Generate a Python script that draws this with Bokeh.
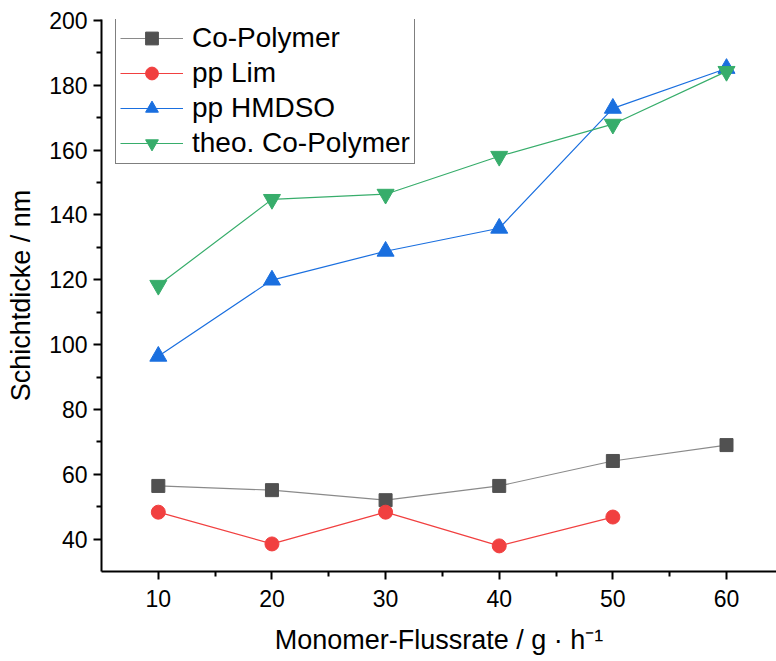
from bokeh.plotting import figure
from bokeh.embed import file_html
from bokeh.resources import INLINE
from bokeh.models import Range1d, FixedTicker, Legend, LegendItem

x_co = [10, 20, 30, 40, 50, 60]
y_co = [56.4, 55.1, 52.0, 56.4, 64.1, 69.0]
x_lim = [10, 20, 30, 40, 50]
y_lim = [48.3, 38.5, 48.3, 37.9, 46.8]
x_hm = [10, 20, 30, 40, 50, 60]
y_hm = [96.4, 119.9, 128.8, 135.9, 172.9, 185.2]
x_th = [10, 20, 30, 40, 50, 60]
y_th = [118.3, 144.8, 146.4, 158.1, 168.0, 184.3]

x_ticks = [10, 20, 30, 40, 50, 60]
y_ticks = [40, 60, 80, 100, 120, 140, 160, 180, 200]

FONT = "Liberation Sans"

p = figure(width=776, height=661, output_backend="svg", toolbar_location=None,
           x_range=Range1d(5, 64.4), y_range=Range1d(30, 200.3),
           min_border_left=101, min_border_right=0, min_border_top=19, min_border_bottom=90)
p.outline_line_color = None
p.grid.visible = False
p.background_fill_color = "white"

series = [
    (x_co, y_co, "#515151", "#8a8a8a", "square", 13, "Co-Polymer"),
    (x_lim, y_lim, "#F14040", "#F14040", "circle", 14, "pp Lim"),
    (x_hm, y_hm, "#1A6FDF", "#1A6FDF", "triangle", 17, "pp HMDSO"),
    (x_th, y_th, "#37AD6B", "#37AD6B", "inverted_triangle", 17, "theo. Co-Polymer"),
]
items = []
for xs, ys, mc, lc, mk, sz, name in series:
    l = p.line(xs, ys, line_color=lc, line_width=1.2)
    s = p.scatter(xs, ys, marker=mk, size=sz, fill_color=mc, line_color=mc)
    items.append(LegendItem(label=name, renderers=[l, s]))

leg = Legend(items=items, location=(14, 407))
leg.label_text_font = FONT
leg.label_text_font_size = "28px"
leg.label_text_color = "black"
leg.glyph_width = 63
leg.glyph_height = 32
leg.label_height = 32
leg.label_standoff = 9
leg.spacing = 3
leg.padding = 4
leg.margin = 0
leg.border_line_color = "black"
leg.border_line_width = 1
leg.background_fill_color = "white"
leg.background_fill_alpha = 1
p.add_layout(leg, "center")

p.xaxis.ticker = FixedTicker(ticks=x_ticks, minor_ticks=[15, 25, 35, 45, 55])
p.yaxis.ticker = FixedTicker(ticks=y_ticks, minor_ticks=[50, 70, 90, 110, 130, 150, 170, 190])
for ax in (p.xaxis, p.yaxis):
    ax.axis_line_width = 2
    ax.axis_line_color = "black"
    ax.major_tick_line_width = 2
    ax.minor_tick_line_width = 2
    ax.major_tick_in = 0
    ax.major_tick_out = 8
    ax.minor_tick_in = 0
    ax.minor_tick_out = 5
    ax.major_label_text_font = FONT
    ax.major_label_text_font_size = "23px"
    ax.major_label_text_color = "black"
    ax.axis_label_text_font = FONT
    ax.axis_label_text_font_size = "27px"
    ax.axis_label_text_font_style = "normal"
    ax.axis_label_text_color = "black"
p.xaxis.axis_label = "Monomer-Flussrate / g · h⁻¹"
p.yaxis.axis_label = "Schichtdicke / nm"
p.xaxis.major_label_standoff = 10
p.yaxis.major_label_standoff = 6
p.xaxis.axis_label_standoff = 15
p.yaxis.axis_label_standoff = 10

open("out.html", "w").write(file_html(p, INLINE))
